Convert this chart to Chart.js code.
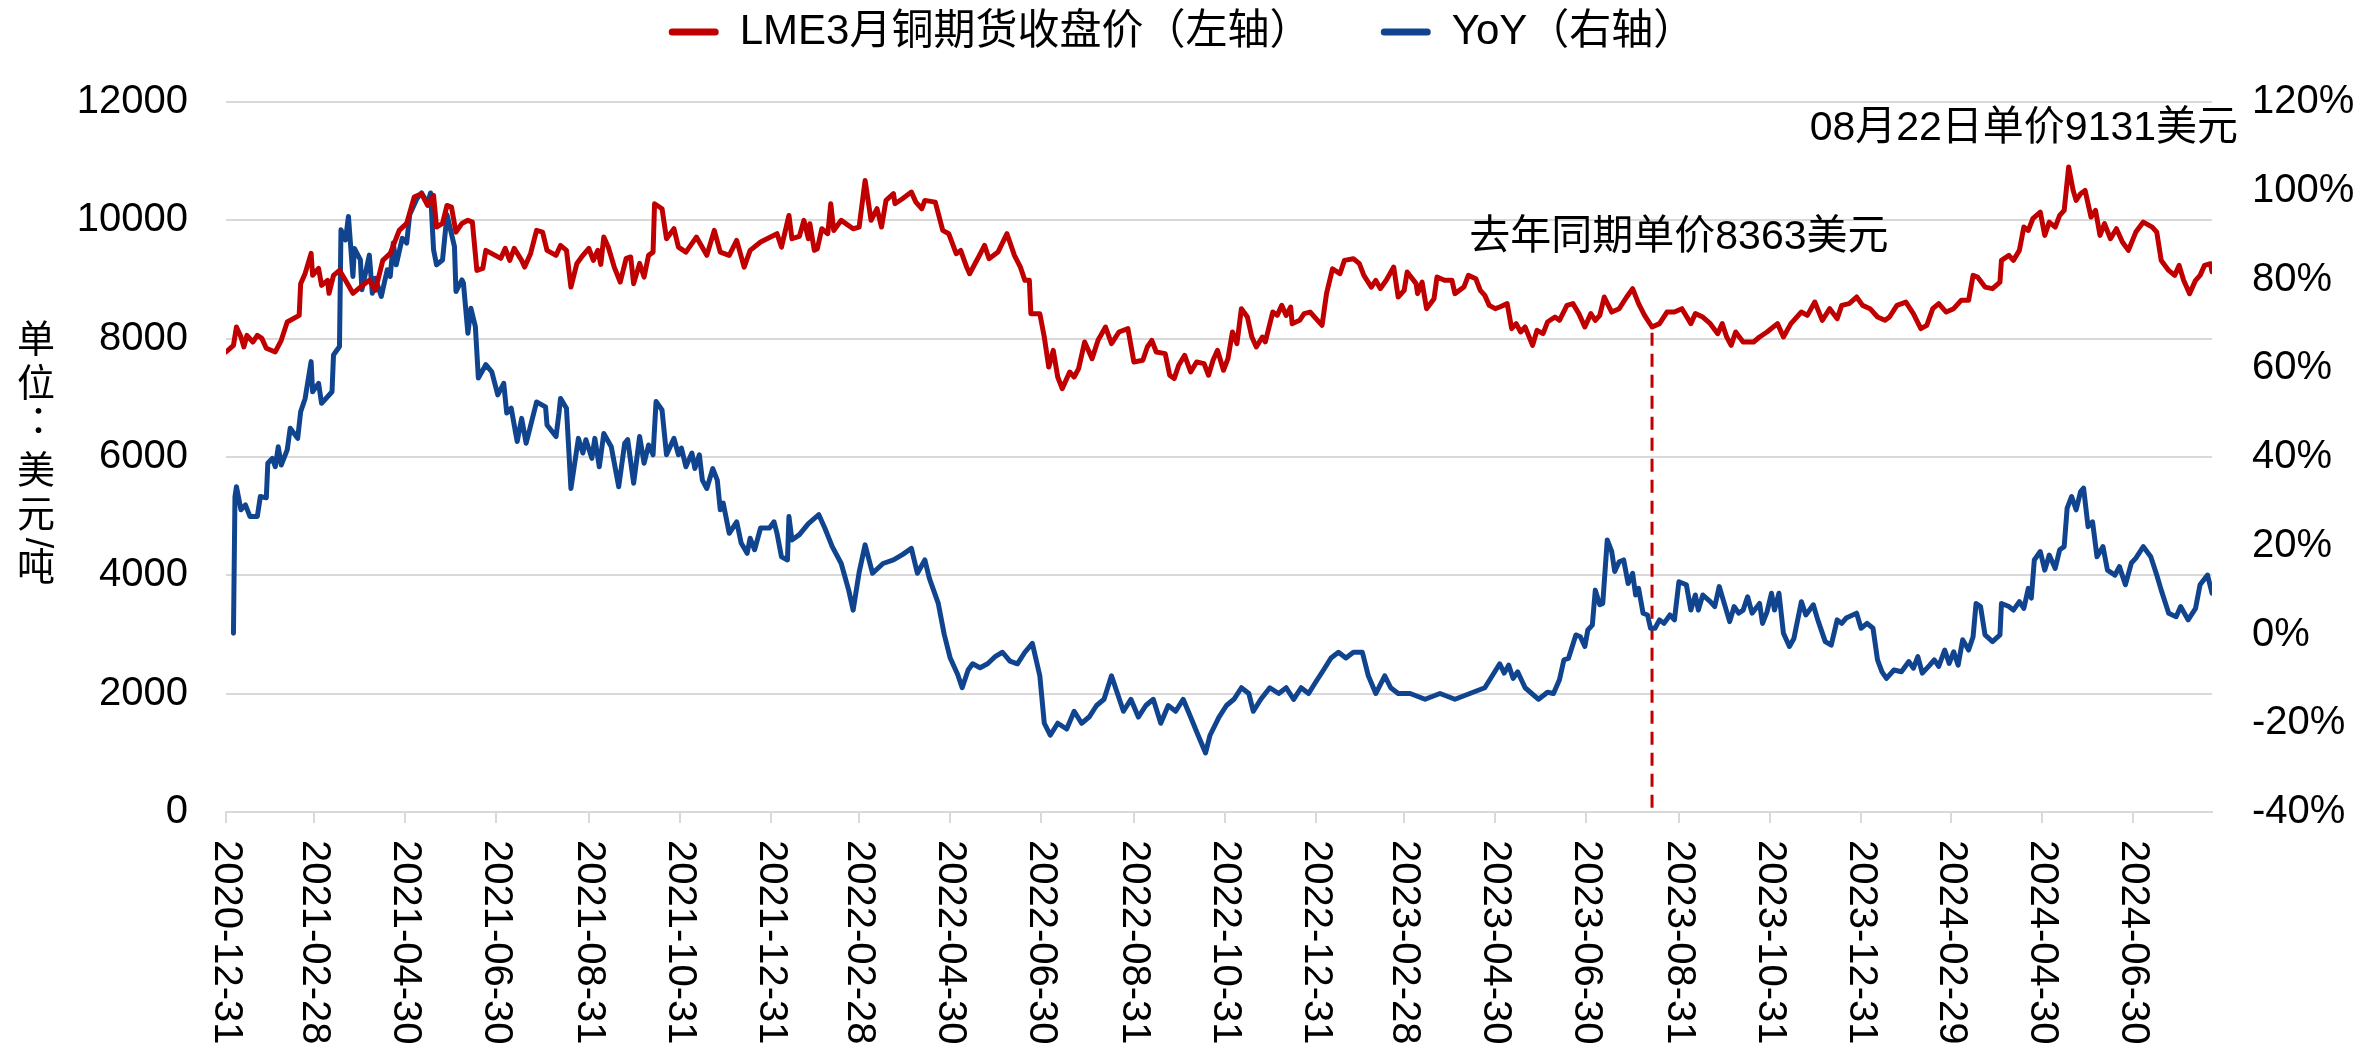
<!DOCTYPE html>
<html><head><meta charset="utf-8">
<script src="https://cdn.jsdelivr.net/npm/chart.js@4.4.1/dist/chart.umd.min.js"></script>
<style>html,body{margin:0;padding:0;background:#fff;}#wrap{width:2364px;height:1056px;}</style>
</head><body><div id="wrap"><canvas id="c" width="2364" height="1056"></canvas></div>
<script>
// ---------------- DATA ----------------
const BASE_DATE = '2020-12-31';
const END_DATE = '2024-08-22';
const seriesNames = ['LME3月铜期货收盘价（左轴）', 'YoY（右轴）'];
const tickDates = ['2020-12-31','2021-02-28','2021-04-30','2021-06-30','2021-08-31','2021-10-31','2021-12-31','2022-02-28','2022-04-30','2022-06-30','2022-08-31','2022-10-31','2022-12-31','2023-02-28','2023-04-30','2023-06-30','2023-08-31','2023-10-31','2023-12-31','2024-02-29','2024-04-30','2024-06-30'];
const leftTicks = [0, 2000, 4000, 6000, 8000, 10000, 12000];
const rightTicks = [-40, -20, 0, 20, 40, 60, 80, 100, 120];

// days since BASE_DATE
const priceDays = [0,5,7,10,12,14,18,21,24,27,33,37,41,49,50,53,57,58,62,64,68,69,72,76,80,85,90,96,100,105,110,116,121,126,131,135,139,141,145,148,151,154,158,162,165,168,172,174,184,187,190,193,198,200,204,208,212,215,221,224,228,231,235,239,243,246,249,251,253,256,260,264,268,271,273,277,280,283,286,287,292,295,300,303,308,315,322,327,331,337,342,347,351,358,369,372,377,379,384,
387,390,391,394,396,399,403,405,407,412,420,424,428,432,436,439,442,447,448,453,459,462,466,468,475,480,484,489,492,496,498,504,508,511,517,523,528,532,535,538,539,545,548,551,554,557,560,565,568,571,575,580,584,589,593,598,604,608,614,617,620,623,629,632,635,638,642,646,650,655,658,661,664,668,671,674,677,680,684,687,690,694,696,701,704,707,710,713,714,719,722,726,731,734,737,741,746,749,755,759,762,767,770,773,777,782,785,789,791,797,798,801,804,809,811,816,821,823,829,832,837,840,843,846,850,
853,858,861,864,867,870,875,878,882,885,890,893,898,902,906,910,914,917,920,923,928,933,938,942,946,950,955,960,965,970,975,981,984,989,994,999,1002,1005,1008,1011,1016,1023,1027,1032,1039,1043,1048,1055,1059,1064,1069,1074,1079,1082,1087,1092,1096,1101,1106,1111,1114,1119,1125,1130,1135,1139,1143,1147,1152,1157,1162,1167,1170,1173,1178,1183,1188,1189,1194,1197,1201,1204,1207,1210,1215,1218,1221,1225,1228,1231,1234,1237,1239,1242,1245,1249,1252,1255,1258,1262,1266,1270,1274,1279,1284,1290,1293,1296,1301,1305,1308,1311,1315,1319,1322,1325,1329,1330];
const priceValues = [7775,7887,8197,8030,7860,8056,7944,8056,8005,7837,7775,7972,8281,8394,8930,9103,9441,9070,9188,8901,8986,8766,9070,9154,8986,8766,8872,8986,8817,9323,9441,9830,9948,10393,10449,10252,10421,9886,9948,10252,10224,9801,9948,10000,9970,9154,9188,9492,9357,9526,9323,9526,9323,9210,9441,9830,9801,9492,9408,9576,9492,8872,9272,9408,9526,9323,9492,9256,9717,9548,9210,8957,9357,9380,8930,9272,9041,9408,9463,10281,10196,9689,9858,9548,9463,9717,9408,9830,9463,9408,9661,9210,9492,9633,9774,9548,10083,9689,9730,
10000,9689,9943,9492,9520,9858,9774,10281,9830,10000,9858,9886,10674,10000,10196,9886,10337,10450,10281,10365,10477,10308,10196,10337,10308,9830,9774,9436,9492,9210,9098,9380,9577,9352,9463,9774,9408,9210,8986,8986,8423,8423,8028,7521,7803,7352,7156,7437,7352,7494,7944,7663,7972,8197,7916,8113,8169,7606,7634,7859,7972,7775,7747,7381,7325,7550,7719,7437,7606,7578,7381,7634,7803,7466,7663,8113,7916,8507,8366,8028,7859,8028,7944,8450,8394,8563,8394,8535,8253,8310,8423,8450,8310,8225,8761,9180,9098,9323,9352,9267,9070,8872,8986,8845,8986,9210,8704,8817,9126,8930,8761,8957,8507,8676,9041,8986,8986,8761,8872,9070,9013,8817,8732,8563,8507,
8535,8592,8169,8254,8113,8197,7887,8141,8085,8281,8366,8310,8563,8592,8423,8197,8423,8310,8394,8704,8450,8507,8704,8845,8592,8394,8197,8254,8450,8450,8507,8254,8423,8366,8254,8085,8254,8028,7887,8113,7944,7944,8028,8113,8254,8028,8254,8450,8394,8619,8310,8507,8338,8563,8592,8704,8563,8507,8366,8310,8366,8563,8619,8423,8169,8225,8507,8592,8450,8507,8648,8648,9070,9041,8872,8845,8957,9323,9408,9323,9492,9886,9830,10027,10140,9746,9970,9886,10083,10168,10900,10506,10337,10450,10506,10055,10168,9746,9943,9689,9858,9633,9492,9801,9970,9886,9801,9323,9154,9070,9239,8986,8761,8986,9070,9239,9267,9131];

const yoyDays = [5,6,7,10,13,16,21,23,27,28,31,33,35,37,41,43,48,50,53,57,58,62,64,71,72,76,77,80,82,85,86,90,91,96,98,100,104,108,110,112,114,118,121,123,128,131,135,137,139,141,145,148,153,154,158,159,162,164,167,169,174,178,182,186,188,191,195,198,201,208,214,215,221,223,224,228,231,236,239,241,245,247,250,253,258,263,267,269,273,277,280,283,286,288,292,295,300,303,305,308,312,314,317,319,322,326,329,331,333,337,342,345,349,351,354,358,364,367,369,372,376,377,379,384,
390,397,401,406,412,417,420,424,428,433,440,447,453,459,463,468,471,477,481,485,490,493,497,500,505,510,515,520,525,530,535,540,545,548,552,557,563,568,573,578,583,588,593,597,601,606,611,616,621,626,631,636,641,646,651,656,659,665,670,675,680,685,688,693,699,705,710,715,720,725,730,735,740,745,750,755,761,765,770,776,780,785,793,803,813,823,833,843,848,853,
856,859,862,865,870,879,885,889,893,896,899,904,907,910,912,915,917,920,922,925,928,930,933,936,939,942,944,946,949,952,954,957,960,963,967,970,973,978,981,984,986,989,994,997,1000,1003,1007,1010,1013,1016,1019,1022,1027,1029,1032,1035,1037,1040,1043,1047,1050,1055,1058,1063,1066,1071,1075,1079,1082,1085,1092,1095,1099,1103,1106,1109,1112,1117,1122,1127,1130,1133,1136,1141,1144,1147,1151,1154,1157,1160,1163,1167,1170,1172,1175,1178,1183,1188,1189,1194,1197,1201,1204,1207,1209,1211,1215,1218,1221,1225,1228,1231,1233,1236,1239,1242,1244,1247,1250,1253,1257,1260,1265,1268,1272,1276,1279,1284,1289,1293,1296,1301,1306,1309,1314,1319,1322,1327,1330];
const yoyValues = [0.3,31,33.3,28.1,29.2,26.6,26.6,31.1,30.8,38.6,39.7,37.8,42.3,38.2,41.6,46.5,44.2,50.2,53.2,61.5,54.7,56.6,52.1,54.7,63.0,64.9,91.2,88.9,94.2,80.7,87.0,84.4,77.7,85.5,76.9,80.3,76.2,82.2,80.7,88.2,83.3,89.3,88.2,94.6,98.3,99.5,97.2,99.5,86.7,83.3,84.4,94.6,87.4,77.3,79.9,79.2,67.9,73.5,69.4,57.8,60.8,59.2,54.0,56.6,49.9,51.0,43.5,48.7,43.1,52.4,51.3,47.2,44.6,49.9,53.2,51.0,32.9,44.2,40.9,43.9,39.7,44.2,37.8,45.3,42.3,33.3,43.1,43.9,34.1,44.6,38.6,42.7,40.5,52.5,50.6,40.5,44.2,40.5,42.0,37.8,40.9,37.4,40.5,34.8,32.9,37.4,34.8,28.1,29.6,22.8,25.4,20.6,18.3,21.7,19.1,24.0,24.0,25.4,22.8,17.5,16.8,26.6,21.3,22.5,
25,27,24,19.8,16,10,5.5,14,20.2,13.8,16,16.8,18,19.4,13.8,16.8,12.7,7,0,-5.3,-9,-12,-8,-6.6,-7.5,-6.6,-5,-4,-6,-6.6,-4,-2,-9.3,-20,-22.7,-20,-21.3,-17.3,-20,-18.6,-16,-14.6,-9.3,-13.3,-17.3,-14.6,-18.6,-16,-14.6,-20,-16,-17.3,-14.6,-18.6,-22.7,-26.7,-22.7,-18.6,-16,-14.6,-12,-13.3,-17.3,-14.6,-12,-13.3,-12,-14.6,-12,-13.3,-10.6,-8,-5.3,-4,-5.3,-4,-4,-9.3,-13.3,-9.3,-12,-13.3,-13.3,-14.6,-13.3,-14.6,-13.3,-12,-9.3,-6.6,
-8.7,-6.9,-9.9,-8.4,-12,-14.6,-13,-13.3,-10.2,-5.7,-5.4,-0.1,-0.5,-2.7,1.0,2.1,10.0,6.7,7.0,21.3,18.7,14.2,16.4,16.8,11.5,13.8,8.9,10.4,4.8,4.4,1.4,1.4,3.3,2.5,4.4,3.3,11.9,11.2,5.5,8.9,5.5,8.9,7.4,6.3,10.8,7.4,2.9,6.3,4.8,5.5,8.5,4.8,7.0,2.5,5.1,9.3,5.5,9.3,0.3,-2.7,-0.9,7.4,4.4,6.7,3.3,-1.6,-2.4,3.3,2.5,3.7,4.8,1.4,2.5,1.4,-5.7,-8.4,-9.9,-8.0,-8.4,-6.1,-7.6,-5.0,-8.7,-6.9,-5.7,-7.2,-3.5,-6.5,-3.9,-6.9,-1.2,-3.5,-0.5,7.0,6.3,-0.1,-1.6,-0.1,7.0,6.3,5.5,7.4,5.9,10.4,8.2,16.8,18.7,14.5,17.9,14.9,19.1,19.8,28.5,31.1,28.1,32.2,33.0,24.3,25.4,17.5,19.8,14.5,13.4,15.3,11.2,16.1,17.2,19.8,17.5,13.4,10.0,4.8,4.0,6.3,3.3,5.9,11.2,13.4,9.3];

// reference marker: same period last year
const markerDays = [955, 955];
const markerValues = [8100, 0];
const noteTexts = ['08月22日单价9131美元', '去年同期单价8363美元'];
const noteDays = [1204, 973];
const noteValues = [11550, 9710];
const yTitleChars = ['单','位','：','美','元','/','吨'];

// ---------------- HELPERS ----------------
const FONT = "'Liberation Sans', Arial, 'Noto Sans CJK SC', sans-serif";
const RED = '#C00000', BLUE = '#10448F', GRID = '#d9d9d9';
function dayOf(s){const [y,m,d]=s.split('-').map(Number);const [by,bm,bd]=BASE_DATE.split('-').map(Number);return Math.round((Date.UTC(y,m-1,d)-Date.UTC(by,bm-1,bd))/86400000);}
const tickDays = tickDates.map(dayOf);
const totalDays = dayOf(END_DATE);
const zip = (xs, ys) => xs.slice(0, Math.min(xs.length, ys.length)).map((d,i)=>({x:d,y:ys[i]}));
const pricePts = zip(priceDays, priceValues);
const yoyPts = zip(yoyDays, yoyValues);
const markerPts = zip(markerDays, markerValues);

const overlay = {
  id:'overlay',
  afterDraw(chart){
    const ctx=chart.ctx, xs=chart.scales.x, ys=chart.scales.y, ca=chart.chartArea;
    ctx.save();
    ctx.fillStyle='#000';
    // rotated x tick labels (clockwise)
    ctx.font='40px '+FONT; ctx.textAlign='left'; ctx.textBaseline='middle';
    tickDates.forEach((lab,i)=>{
      const px=xs.getPixelForValue(tickDays[i]);
      ctx.save(); ctx.translate(px, ca.bottom+28); ctx.rotate(Math.PI/2); ctx.fillText(lab,0,0); ctx.restore();
    });
    // notes
    ctx.font='41px '+FONT; ctx.textAlign='center'; ctx.textBaseline='middle';
    noteTexts.forEach((t,i)=>ctx.fillText(t, xs.getPixelForValue(noteDays[i]), ys.getPixelForValue(noteValues[i])));
    // vertical y-axis title, upright characters
    ctx.font='38px '+FONT; ctx.textAlign='center'; ctx.textBaseline='middle';
    const cy=(ca.top+ca.bottom)/2;
    const offs=[-115,-71,-35,16,60,86,113];
    yTitleChars.forEach((c,i)=>{
      if(c==='/'){ctx.save();ctx.translate(36,cy+offs[i]);ctx.rotate(Math.PI/2);ctx.fillText(c,0,0);ctx.restore();}
      else if(c==='：'){ctx.fillText(c,48,cy+offs[i]);}
      else ctx.fillText(c,36,cy+offs[i]);
    });
    ctx.restore();
  }
};

new Chart(document.getElementById('c'), {
  type:'line',
  data:{datasets:[
    {label:seriesNames[0], data:pricePts, yAxisID:'y', borderColor:RED, backgroundColor:RED, borderWidth:5, pointRadius:0, tension:0, borderJoinStyle:'round', borderCapStyle:'round'},
    {label:seriesNames[1], data:yoyPts, yAxisID:'y2', borderColor:BLUE, backgroundColor:BLUE, borderWidth:5, pointRadius:0, tension:0, borderJoinStyle:'round', borderCapStyle:'round'},
    {label:'marker', data:markerPts, yAxisID:'y', borderColor:RED, borderWidth:3, borderDash:[13,8], pointRadius:0}
  ]},
  options:{
    responsive:false, animation:false, devicePixelRatio:1,
    layout:{padding:0},
    plugins:{
      tooltip:{enabled:false},
      legend:{position:'top', weight:1000, labels:{
        font:{size:42,family:FONT}, color:'#000', boxWidth:50, boxHeight:7, padding:11,
        useBorderRadius:true, borderRadius:3.5,
        generateLabels(chart){
          return Chart.defaults.plugins.legend.labels.generateLabels(chart)
            .filter(it=>it.datasetIndex<2)
            .map(it=>Object.assign(it,{lineWidth:0, fillStyle:it.strokeStyle, text: it.datasetIndex===0 ? it.text+'     ' : it.text}));
        }
      }},
      title:{display:true, text:' ', weight:500, font:{size:10}, padding:{top:0,bottom:27}}
    },
    scales:{
      x:{type:'linear', min:0, max:totalDays,
        afterBuildTicks:s=>{s.ticks=tickDays.map(v=>({value:v}));},
        ticks:{display:false},
        grid:{drawOnChartArea:false, drawTicks:true, tickLength:11, color:GRID, lineWidth:2},
        border:{display:true, color:GRID, width:2},
        afterFit:s=>{s.height=244;}},
      y:{position:'left', min:0, max:12000,
        afterBuildTicks:s=>{s.ticks=leftTicks.map(v=>({value:v}));},
        ticks:{font:{size:40,family:FONT}, color:'#000', padding:38, callback:v=>String(v)},
        grid:{color:GRID, lineWidth:2, drawTicks:false}, border:{display:false},
        afterFit:s=>{s.width=226;}},
      y2:{position:'right', min:-40, max:120,
        afterBuildTicks:s=>{s.ticks=rightTicks.map(v=>({value:v}));},
        ticks:{font:{size:40,family:FONT}, color:'#000', padding:40, callback:v=>v+'%'},
        grid:{drawOnChartArea:false, drawTicks:false}, border:{display:false},
        afterFit:s=>{s.width=152;}}
    }
  },
  plugins:[overlay]
});
</script></body></html>
